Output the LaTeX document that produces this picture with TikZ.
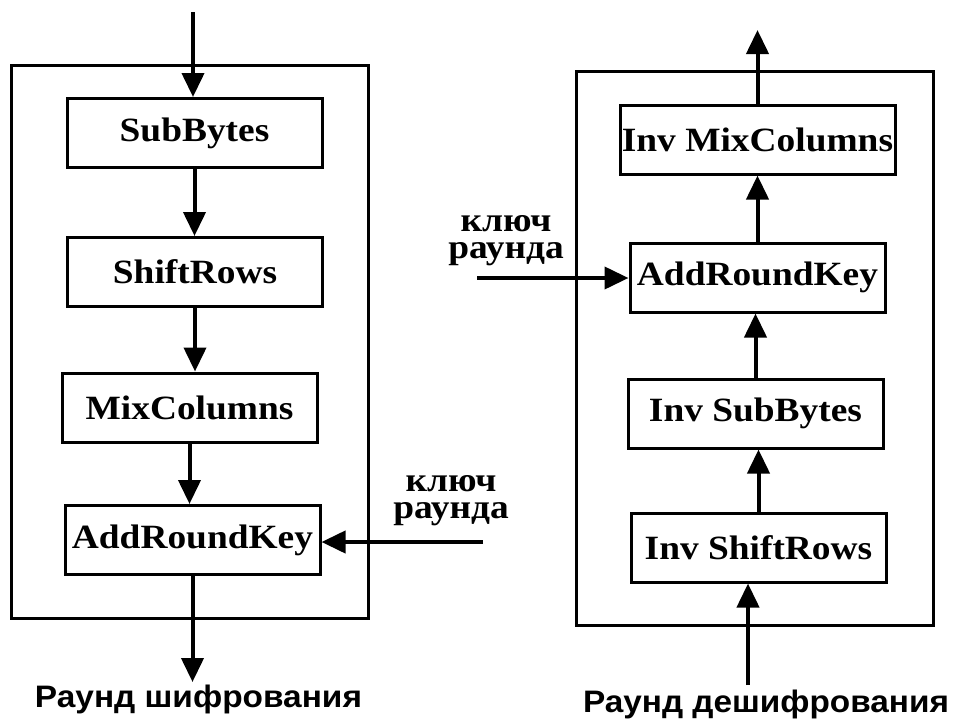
\documentclass[tikz,border=0pt]{standalone}
\usepackage{fontspec}
\usepackage{graphicx}
\setmainfont{Liberation Serif}
\newfontfamily\boxfont{Liberation Serif}[FakeStretch=1.1]
\newfontfamily\capfont{Liberation Sans}
\usetikzlibrary{arrows.meta}

\tikzset{
  stage/.style={draw, line width=3pt, inner sep=0pt, minimum width=255pt,
    minimum height=69pt, font=\boxfont\bfseries\fontsize{34}{40}\selectfont},
  frame/.style={draw, line width=3pt},
  flow/.style={line width=4pt, -{Triangle[width=22pt,length=24pt]}},
  keyline/.style={inner sep=0pt, anchor=base, text height=16pt, text depth=7pt,
    font=\boxfont\bfseries\fontsize{34}{34}\selectfont},
  caption/.style={inner sep=0pt, anchor=base, font=\capfont\bfseries}
}

\begin{document}
\begin{tikzpicture}[x=1pt, y=-1pt]
  \useasboundingbox (0,0) rectangle (953,720);

  % ---- encryption round ----
  \draw[frame] (11,65) rectangle (368,618);
  \node[stage] (sb)   at (194.5,133)   {SubBytes};
  \node[stage] (sr)   at (195,272)     {ShiftRows};
  \node[stage] (mc)   at (189.5,407.5) {MixColumns};
  \node[stage] (ark1) at (192.5,540)   {AddRoundKey};

  \coordinate (in1)  at (193,12);
  \coordinate (out1) at (181,682);
  \coordinate (k1)   at (483,542);

  \draw[flow] (in1) -- (in1 |- sb.north);
  \draw[flow] (sb.south) -- (sb.south |- sr.north);
  \draw[flow] (sr.south) -- (sr.south |- mc.north);
  \draw[flow] (mc.south) -- (mc.south |- ark1.north);
  \draw[flow] (ark1.south) -- (ark1.south |- out1);
  \draw[flow] (k1) -- (k1 -| ark1.east);

  \node[keyline] (key1a) at (451,491) {ключ};
  \node[keyline] (key1b) at (451,518) {раунда};
  \node[caption] (cap1) at (198.5,707)
    {\resizebox{327pt}{22.5pt}{Раунд шифрования}};

  % ---- decryption round ----
  \draw[frame] (576,71) rectangle (933,625);
  \node[stage, minimum width=275pt] (imc) at (757.5,139.5) {Inv MixColumns};
  \node[stage] (ark2) at (757.5,277.5) {AddRoundKey};
  \node[stage] (isb)  at (755.5,413.5) {Inv SubBytes};
  \node[stage] (isr)  at (758.5,547.5) {Inv ShiftRows};

  \coordinate (in2)  at (748,685);
  \coordinate (out2) at (752,30);
  \coordinate (k2)   at (477,278);

  \draw[flow] (in2) -- (in2 |- isr.south);
  \draw[flow] (isr.north) -- (isr.north |- isb.south);
  \draw[flow] (isb.north) -- (isb.north |- ark2.south);
  \draw[flow] (ark2.north) -- (ark2.north |- imc.south);
  \draw[flow] (imc.north) -- (imc.north |- out2);
  \draw[flow] (k2) -- (k2 -| ark2.west);

  \node[keyline] (key2a) at (506,231) {ключ};
  \node[keyline] (key2b) at (506,258) {раунда};
  \node[caption] (cap2) at (766,712)
    {\resizebox{366pt}{22.5pt}{Раунд дешифрования}};
\end{tikzpicture}
\end{document}
